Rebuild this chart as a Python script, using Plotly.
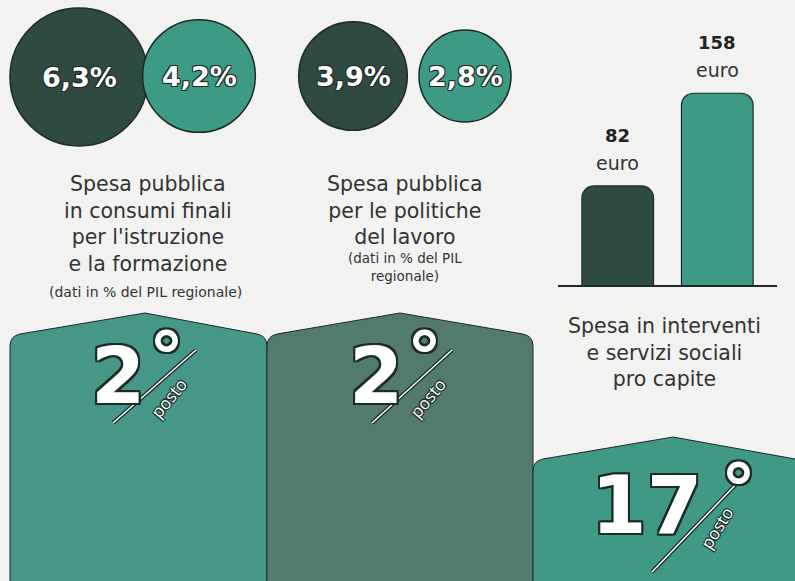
import math
import plotly.graph_objects as go

# ---------------- data ----------------
pct_labels = ["6,3%", "4,2%", "3,9%", "2,8%"]
pct_values = [6.3, 4.2, 3.9, 2.8]
pct_group = ["istruzione", "istruzione", "lavoro", "lavoro"]

bar_categories = ["A", "B"]
bar_values = [82, 158]
bar_unit = "euro"

ranks = [2, 2, 17]
rank_word = "posto"

title_istruzione = ["Spesa pubblica", "in consumi finali", "per l'istruzione", "e la formazione"]
note_istruzione = ["(dati in % del PIL regionale)"]
title_lavoro = ["Spesa pubblica", "per le politiche", "del lavoro"]
note_lavoro = ["(dati in % del PIL", "regionale)"]
title_sociale = ["Spesa in interventi", "e servizi sociali", "pro capite"]

# ---------------- style ----------------
W, H = 795, 581
BG = "#f2f2f0"
DARK = "#2e4a41"
TEAL = "#3d9a86"
INK = "#1d2b26"
TXT = "#333333"
FONT = "DejaVu Sans"
outline1 = f"1px 1px 0 {INK}, -1px -1px 0 {INK}, 1px -1px 0 {INK}, -1px 1px 0 {INK}"
outline2 = (f"2px 2px 0 {INK}, -2px -2px 0 {INK}, 2px -2px 0 {INK}, -2px 2px 0 {INK}, "
            f"0 2px 0 {INK}, 0 -2px 0 {INK}, 2px 0 0 {INK}, -2px 0 0 {INK}")

fig = go.Figure()

# circles (area ~ value)
circle_x = [79, 199, 353, 465]
circle_y = [77, 76, 76, 76]
circle_col = [DARK, TEAL, DARK, TEAL]
fig.add_trace(go.Scatter(
    x=circle_x, y=circle_y, mode="markers",
    marker=dict(size=[55 * math.sqrt(v) for v in pct_values], sizemode="diameter",
                color=circle_col, opacity=1, line=dict(color=INK, width=1.5)),
    hoverinfo="skip", showlegend=False, xaxis="x", yaxis="y"))
for xx, yy, lab in zip(circle_x, circle_y, pct_labels):
    fig.add_annotation(x=xx, y=yy, xref="x", yref="y", text=f"<b>{lab}</b>", showarrow=False,
                       font=dict(family="DejaVu Sans", size=27, color="white", shadow=outline1))

# bars
fig.add_trace(go.Bar(
    x=[0, 1], y=bar_values, width=0.72,
    marker=dict(color=[DARK, TEAL], line=dict(color=INK, width=1.2), cornerradius=12),
    hoverinfo="skip", showlegend=False, xaxis="x2", yaxis="y2"))
for i, v in enumerate(bar_values):
    fig.add_annotation(x=i, y=v, xref="x2", yref="y2", text=bar_unit, showarrow=False,
                       yanchor="bottom", yshift=10, font=dict(family=FONT, size=19, color=TXT))
    fig.add_annotation(x=i, y=v, xref="x2", yref="y2", text=f"<b>{v}</b>", showarrow=False,
                       yanchor="bottom", yshift=38, font=dict(family="DejaVu Sans", size=18, color="#222"))

shapes = []
# baseline of bar chart
shapes.append(dict(type="line", xref="x", yref="y", x0=558, x1=777, y0=286, y1=286,
                   line=dict(color=INK, width=2)))

# podium blocks
def block(x0, x1, ytop, xpeak, ypeak, col, r=10):
    p = (f"M {x0},{H + 5} L {x0},{ytop + r} Q {x0},{ytop} {x0 + r},{ytop - 2} "
         f"L {xpeak},{ypeak} L {x1 - r},{ytop - 2} Q {x1},{ytop} {x1},{ytop + r} L {x1},{H + 5} Z")
    return dict(type="path", xref="x", yref="y", path=p, fillcolor=col,
                line=dict(color=INK, width=1), layer="below")

shapes.append(block(10, 267, 336, 145, 313, "#46968a"))
shapes.append(block(267, 533, 336, 400, 313, "#537a6e"))
shapes.append(block(533, 805, 461, 673, 437, "#409886"))

# rank badges
rank_pos = [  # number centre, degree centre, line start/end, word centre
    dict(n=(118, 376), d=(166, 344), l=(113, 423, 196, 350), w=(168, 398), fs=78, ang=-50),
    dict(n=(376, 376), d=(424, 344), l=(372, 423, 452, 350), w=(427, 398), fs=78, ang=-50),
    dict(n=(646, 505), d=(738, 476), l=(652, 572, 742, 478), w=(716, 528), fs=80, ang=-58),
]
for rk, p in zip(ranks, rank_pos):
    x0, y0, x1, y1 = p["l"]
    shapes.append(dict(type="line", xref="x", yref="y", x0=x0, y0=y0, x1=x1, y1=y1,
                       line=dict(color=INK, width=4)))
    shapes.append(dict(type="line", xref="x", yref="y", x0=x0, y0=y0, x1=x1, y1=y1,
                       line=dict(color="white", width=1.5)))
    fig.add_annotation(x=p["n"][0], y=p["n"][1], xref="x", yref="y", text=f"<b>{rk}</b>",
                       showarrow=False, font=dict(family="DejaVu Sans", size=p["fs"], color="white",
                                                  shadow=outline2))
    fig.add_annotation(x=p["d"][0], y=p["d"][1] + 14, xref="x", yref="y", text="<b>°</b>",
                       showarrow=False, font=dict(family="DejaVu Sans", size=70, color="white",
                                                  shadow=outline2))
    fig.add_annotation(x=p["w"][0], y=p["w"][1], xref="x", yref="y", text=rank_word,
                       showarrow=False, textangle=p["ang"],
                       font=dict(family="Open Sans", size=17, color="white", shadow=outline1))

# text blocks (one annotation per block, lines joined with <br>)
def block_text(cx, cy, texts, size, yanchor="middle"):
    fig.add_annotation(x=cx, y=cy, xref="x", yref="y", text="<br>".join(texts), showarrow=False,
                       align="center", yanchor=yanchor,
                       font=dict(family=FONT, size=size, color=TXT))

block_text(148, 170, title_istruzione, 20.5, "top")
block_text(145, 292, note_istruzione, 14)
block_text(405, 170, title_lavoro, 20.5, "top")
block_text(405, 267, note_lavoro, 13.5)
block_text(664, 312, title_sociale, 20.5, "top")

fig.update_layout(
    width=W, height=H, margin=dict(l=0, r=0, t=0, b=0),
    paper_bgcolor=BG, plot_bgcolor="rgba(0,0,0,0)",
    shapes=shapes,
    xaxis=dict(range=[0, W], domain=[0, 1], visible=False, fixedrange=True),
    yaxis=dict(range=[H, 0], domain=[0, 1], visible=False, fixedrange=True),
    xaxis2=dict(range=[-0.6, 1.6], domain=[558 / W, 777 / W], anchor="y2", visible=False),
    yaxis2=dict(range=[0, 286 / 1.22], domain=[1 - 286 / H, 1], anchor="x2", visible=False),
    bargap=0.3,
)

fig.write_html("out.html", config={"displayModeBar": False},
               post_script="document.body.style.margin='0';document.body.style.background='#f2f2f0';")
